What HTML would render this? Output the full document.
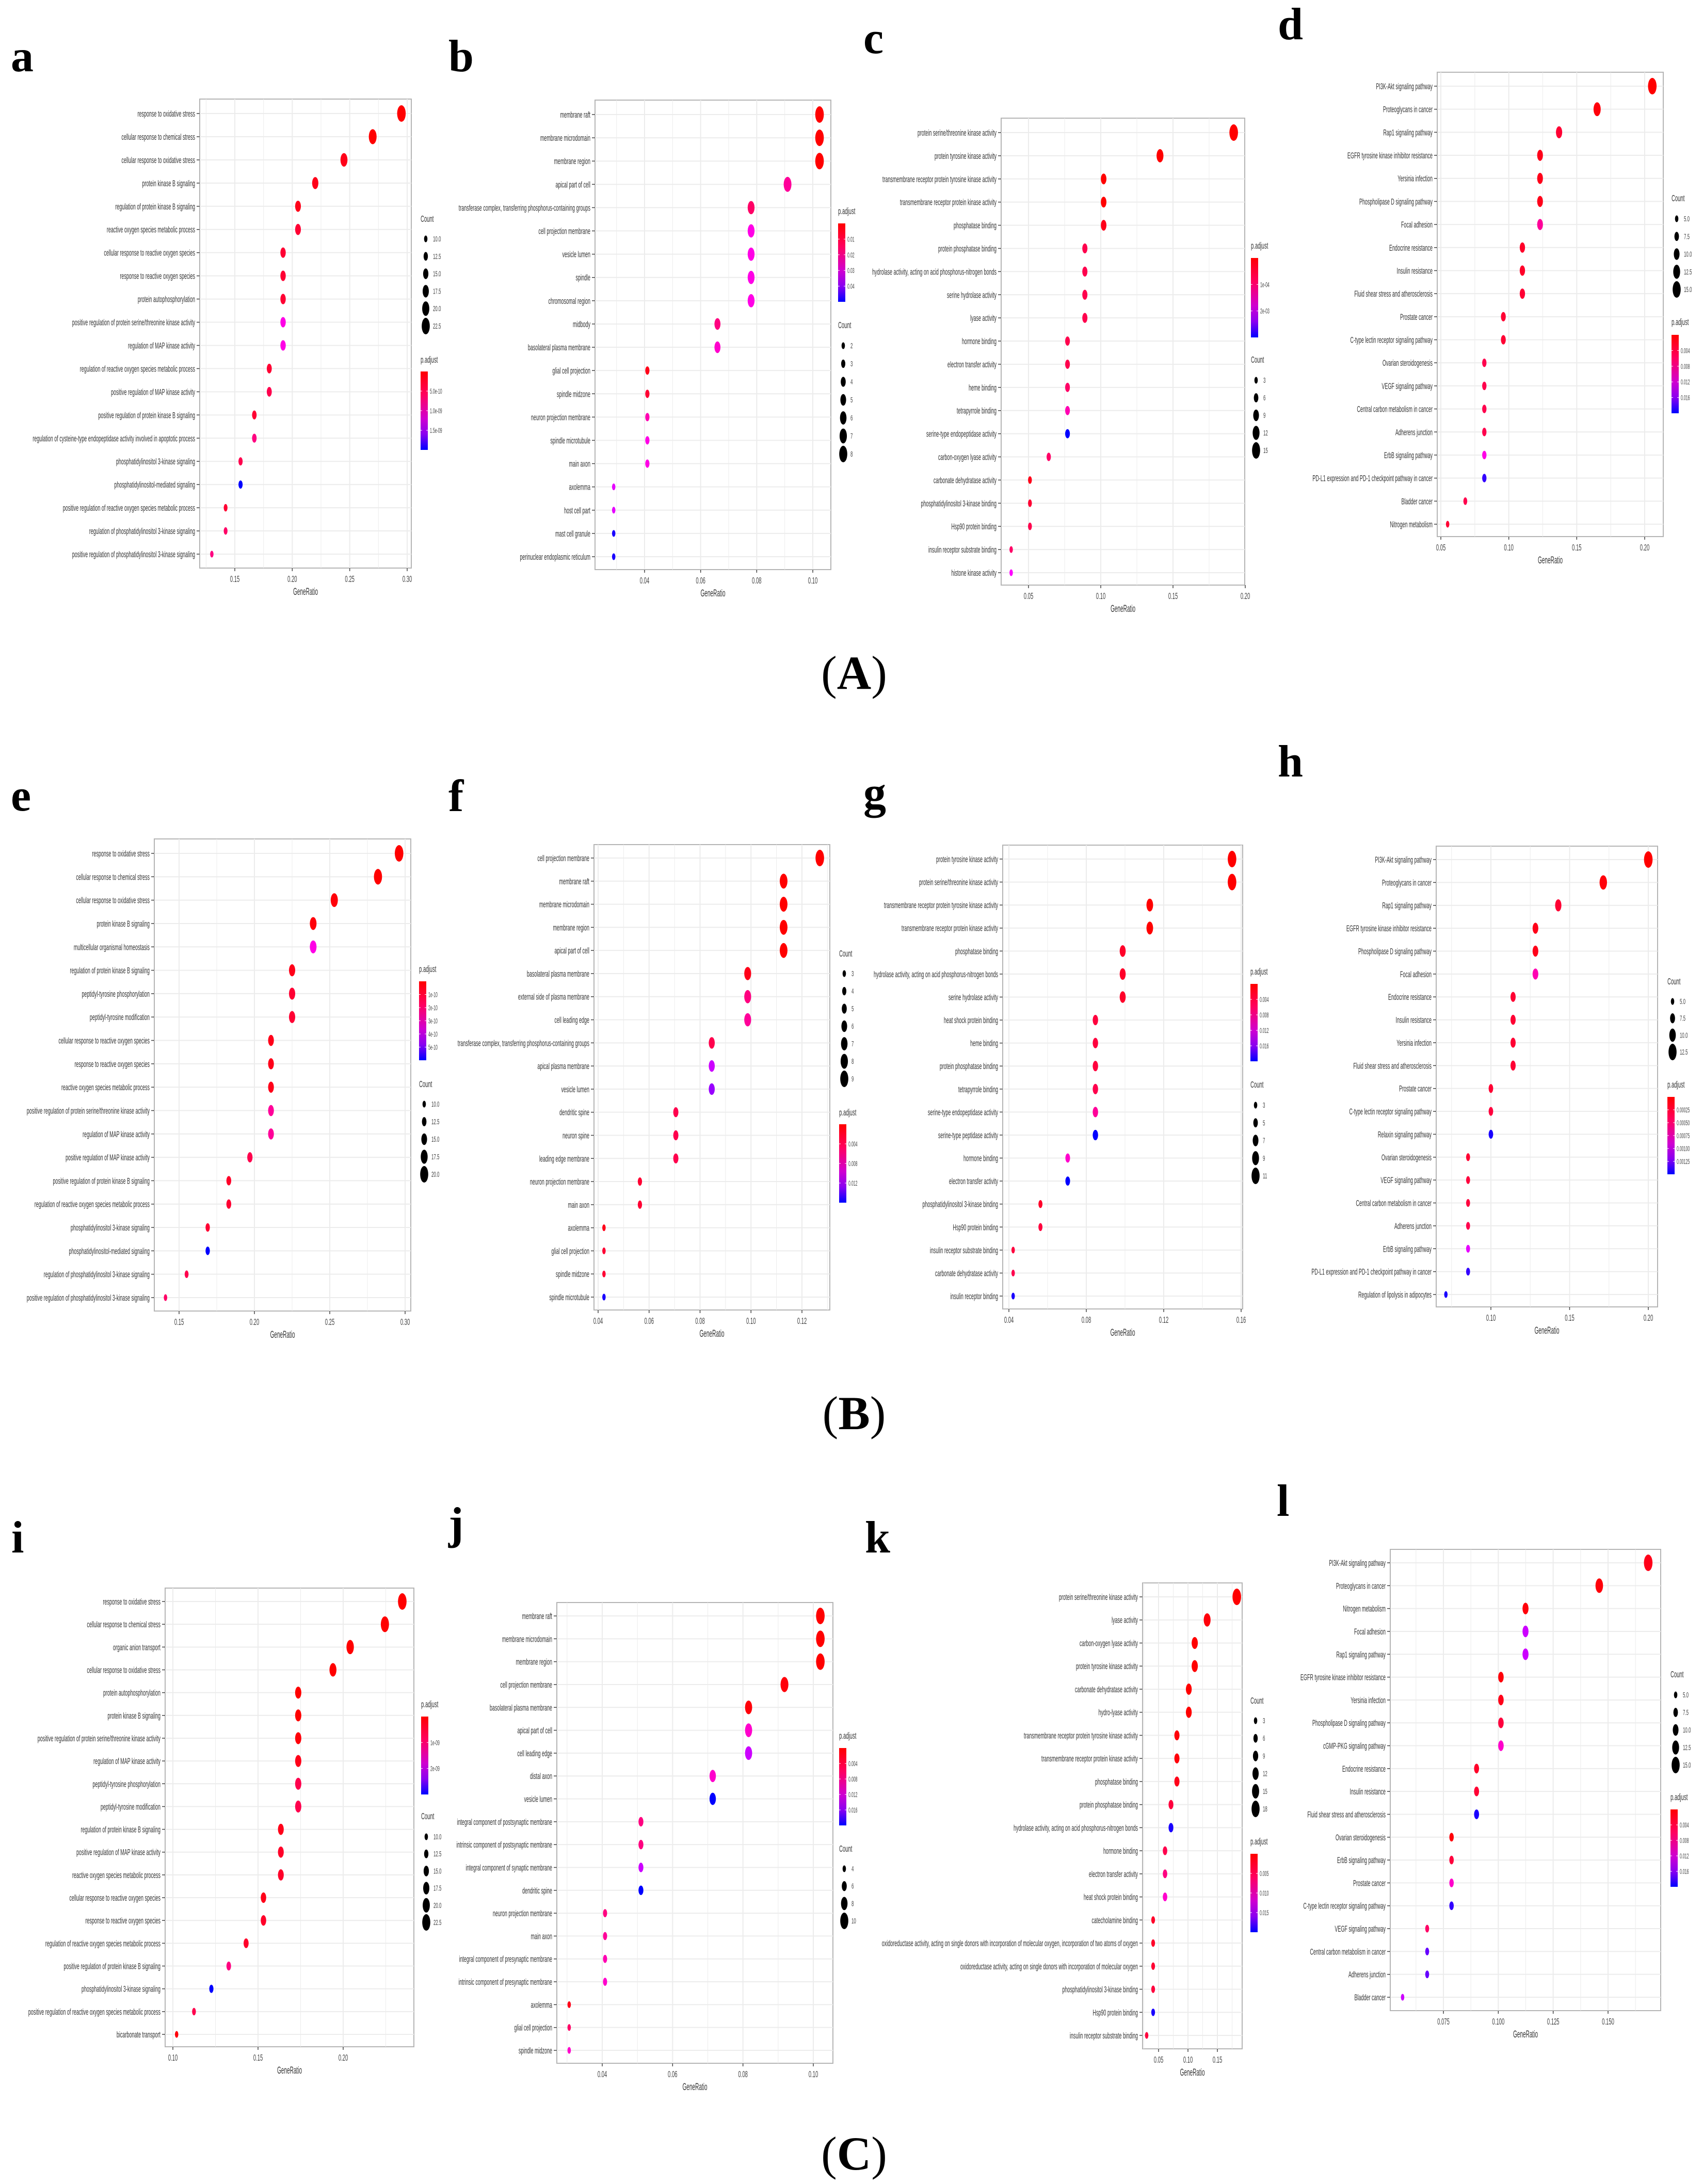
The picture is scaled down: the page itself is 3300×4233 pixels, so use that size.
<!DOCTYPE html>
<html><head><meta charset="utf-8"><style>
html,body{margin:0;padding:0;background:#fff}
svg{display:block}
text{font-family:"Liberation Sans",sans-serif}
.big{font-family:"Liberation Serif",serif;font-weight:bold}
</style></head><body>
<svg id="fig" width="3300" height="4233" viewBox="0 0 3300 4233" xmlns="http://www.w3.org/2000/svg">
<defs><linearGradient id="pgrad" x1="0" y1="0" x2="0" y2="1">
<stop offset="0" stop-color="#ff0000"/><stop offset="0.3" stop-color="#ff0060"/><stop offset="0.6" stop-color="#d000d0"/><stop offset="0.8" stop-color="#8a00f0"/><stop offset="1" stop-color="#0000ff"/></linearGradient></defs>
<text class="big" x="21" y="138" font-size="88">a</text>
<text class="big" x="869" y="138" font-size="88">b</text>
<text class="big" x="1673" y="103" font-size="88">c</text>
<text class="big" x="2476" y="76" font-size="88">d</text>
<text class="big" x="21" y="1571" font-size="88">e</text>
<text class="big" x="869" y="1572" font-size="88">f</text>
<text class="big" x="1673" y="1566" font-size="88">g</text>
<text class="big" x="2476" y="1505" font-size="88">h</text>
<text class="big" x="22" y="3009" font-size="88">i</text>
<text class="big" x="869" y="2982" font-size="88">j</text>
<text class="big" x="1676" y="3009" font-size="88">k</text>
<text class="big" x="2474" y="2938" font-size="88">l</text>
<text class="big" x="1655" y="1335" font-size="92" text-anchor="middle"><tspan font-weight="normal">(</tspan>A<tspan font-weight="normal">)</tspan></text>
<text class="big" x="1655" y="2770" font-size="92" text-anchor="middle"><tspan font-weight="normal">(</tspan>B<tspan font-weight="normal">)</tspan></text>
<text class="big" x="1655" y="4205" font-size="92" text-anchor="middle"><tspan font-weight="normal">(</tspan>C<tspan font-weight="normal">)</tspan></text>
</svg>
<script>
// ---------- data ----------
const labelsA=["response to oxidative stress","cellular response to chemical stress","cellular response to oxidative stress","protein kinase B signaling","regulation of protein kinase B signaling","reactive oxygen species metabolic process","cellular response to reactive oxygen species","response to reactive oxygen species","protein autophosphorylation","positive regulation of protein serine/threonine kinase activity","regulation of MAP kinase activity","regulation of reactive oxygen species metabolic process","positive regulation of MAP kinase activity","positive regulation of protein kinase B signaling","regulation of cysteine-type endopeptidase activity involved in apoptotic process","phosphatidylinositol 3-kinase signaling","phosphatidylinositol-mediated signaling","positive regulation of reactive oxygen species metabolic process","regulation of phosphatidylinositol 3-kinase signaling","positive regulation of phosphatidylinositol 3-kinase signaling"];
const valuesA=[0.295,0.27,0.245,0.22,0.205,0.205,0.192,0.192,0.192,0.192,0.192,0.18,0.18,0.167,0.167,0.155,0.155,0.142,0.142,0.13];
const padjA=[0,0,0.05,0.05,0.05,0.1,0.1,0.1,0.1,0.45,0.45,0.1,0.15,0.1,0.25,0.15,1,0.1,0.2,0.25];
const ticksA=[0.15,0.20,0.25,0.30];

const labelsB=["membrane raft","membrane microdomain","membrane region","apical part of cell","transferase complex, transferring phosphorus-containing groups","cell projection membrane","vesicle lumen","spindle","chromosomal region","midbody","basolateral plasma membrane","glial cell projection","spindle midzone","neuron projection membrane","spindle microtubule","main axon","axolemma","host cell part","mast cell granule","perinuclear endoplasmic reticulum"];
const valuesB=[0.1024,0.1024,0.1024,0.091,0.078,0.078,0.078,0.078,0.078,0.066,0.066,0.041,0.041,0.041,0.041,0.041,0.029,0.029,0.029,0.029];
const padjB=[0,0,0,0.3,0.2,0.45,0.45,0.45,0.45,0.25,0.4,0.05,0.1,0.35,0.45,0.45,0.55,0.55,0.95,0.95];
const ticksB=[0.04,0.06,0.08,0.10];

const labelsC=["protein serine/threonine kinase activity","protein tyrosine kinase activity","transmembrane receptor protein tyrosine kinase activity","transmembrane receptor protein kinase activity","phosphatase binding","protein phosphatase binding","hydrolase activity, acting on acid phosphorus-nitrogen bonds","serine hydrolase activity","lyase activity","hormone binding","electron transfer activity","heme binding","tetrapyrrole binding","serine-type endopeptidase activity","carbon-oxygen lyase activity","carbonate dehydratase activity","phosphatidylinositol 3-kinase binding","Hsp90 protein binding","insulin receptor substrate binding","histone kinase activity"];
const valuesC=[0.192,0.141,0.102,0.102,0.102,0.089,0.089,0.089,0.089,0.077,0.077,0.077,0.077,0.077,0.064,0.051,0.051,0.051,0.038,0.038];
const padjC=[0,0,0,0,0.05,0.15,0.15,0.15,0.15,0.15,0.15,0.2,0.35,1,0.2,0.05,0.1,0.15,0.2,0.5];
const ticksC=[0.05,0.10,0.15,0.20];

const labelsD=["PI3K-Akt signaling pathway","Proteoglycans in cancer","Rap1 signaling pathway","EGFR tyrosine kinase inhibitor resistance","Yersinia infection","Phospholipase D signaling pathway","Focal adhesion","Endocrine resistance","Insulin resistance","Fluid shear stress and atherosclerosis","Prostate cancer","C-type lectin receptor signaling pathway","Ovarian steroidogenesis","VEGF signaling pathway","Central carbon metabolism in cancer","Adherens junction","ErbB signaling pathway","PD-L1 expression and PD-1 checkpoint pathway in cancer","Bladder cancer","Nitrogen metabolism"];
const valuesD=[0.2056,0.165,0.137,0.123,0.123,0.123,0.123,0.110,0.110,0.110,0.096,0.096,0.082,0.082,0.082,0.082,0.082,0.082,0.068,0.055];
const padjD=[0,0.02,0.1,0.05,0.05,0.05,0.3,0.08,0.08,0.1,0.1,0.1,0.15,0.15,0.15,0.15,0.45,0.9,0.15,0.1];
const ticksD=[0.05,0.10,0.15,0.20];

const labelsE=["response to oxidative stress","cellular response to chemical stress","cellular response to oxidative stress","protein kinase B signaling","multicellular organismal homeostasis","regulation of protein kinase B signaling","peptidyl-tyrosine phosphorylation","peptidyl-tyrosine modification","cellular response to reactive oxygen species","response to reactive oxygen species","reactive oxygen species metabolic process","positive regulation of protein serine/threonine kinase activity","regulation of MAP kinase activity","positive regulation of MAP kinase activity","positive regulation of protein kinase B signaling","regulation of reactive oxygen species metabolic process","phosphatidylinositol 3-kinase signaling","phosphatidylinositol-mediated signaling","regulation of phosphatidylinositol 3-kinase signaling","positive regulation of phosphatidylinositol 3-kinase signaling"];
const valuesE=[0.296,0.282,0.253,0.239,0.239,0.225,0.225,0.225,0.211,0.211,0.211,0.211,0.211,0.197,0.183,0.183,0.169,0.169,0.155,0.141];
const padjE=[0,0,0.02,0.02,0.45,0.05,0.1,0.1,0.05,0.05,0.05,0.3,0.3,0.15,0.08,0.1,0.1,1,0.15,0.2];
const ticksE=[0.15,0.20,0.25,0.30];

const labelsF=["cell projection membrane","membrane raft","membrane microdomain","membrane region","apical part of cell","basolateral plasma membrane","external side of plasma membrane","cell leading edge","transferase complex, transferring phosphorus-containing groups","apical plasma membrane","vesicle lumen","dendritic spine","neuron spine","leading edge membrane","neuron projection membrane","main axon","axolemma","glial cell projection","spindle midzone","spindle microtubule"];
const valuesF=[0.127,0.1128,0.1128,0.1128,0.1128,0.0987,0.0987,0.0987,0.0846,0.0846,0.0846,0.0705,0.0705,0.0705,0.0564,0.0564,0.0423,0.0423,0.0423,0.0423];
const padjF=[0,0,0,0,0,0.05,0.25,0.3,0.15,0.6,0.7,0.15,0.15,0.15,0.1,0.1,0.05,0.1,0.1,0.95];
const ticksF=[0.04,0.06,0.08,0.10,0.12];

const labelsG=["protein tyrosine kinase activity","protein serine/threonine kinase activity","transmembrane receptor protein tyrosine kinase activity","transmembrane receptor protein kinase activity","phosphatase binding","hydrolase activity, acting on acid phosphorus-nitrogen bonds","serine hydrolase activity","heat shock protein binding","heme binding","protein phosphatase binding","tetrapyrrole binding","serine-type endopeptidase activity","serine-type peptidase activity","hormone binding","electron transfer activity","phosphatidylinositol 3-kinase binding","Hsp90 protein binding","insulin receptor substrate binding","carbonate dehydratase activity","insulin receptor binding"];
const valuesG=[0.1553,0.1553,0.1128,0.1128,0.0988,0.0988,0.0988,0.0847,0.0847,0.0847,0.0847,0.0847,0.0847,0.0704,0.0704,0.0563,0.0563,0.0422,0.0422,0.0422];
const padjG=[0,0,0,0,0.08,0.08,0.08,0.12,0.12,0.12,0.15,0.3,1,0.4,1,0.08,0.12,0.12,0.15,0.95];
const ticksG=[0.04,0.08,0.12,0.16];

const labelsH=["PI3K-Akt signaling pathway","Proteoglycans in cancer","Rap1 signaling pathway","EGFR tyrosine kinase inhibitor resistance","Phospholipase D signaling pathway","Focal adhesion","Endocrine resistance","Insulin resistance","Yersinia infection","Fluid shear stress and atherosclerosis","Prostate cancer","C-type lectin receptor signaling pathway","Relaxin signaling pathway","Ovarian steroidogenesis","VEGF signaling pathway","Central carbon metabolism in cancer","Adherens junction","ErbB signaling pathway","PD-L1 expression and PD-1 checkpoint pathway in cancer","Regulation of lipolysis in adipocytes"];
const valuesH=[0.200,0.1714,0.1428,0.1283,0.1283,0.1283,0.1141,0.1141,0.1141,0.1141,0.100,0.100,0.100,0.0855,0.0855,0.0855,0.0855,0.0855,0.0855,0.0714];
const padjH=[0,0.02,0.1,0.05,0.05,0.35,0.1,0.1,0.1,0.1,0.1,0.12,0.95,0.1,0.12,0.12,0.15,0.55,0.9,0.95];
const ticksH=[0.10,0.15,0.20];

const labelsI=["response to oxidative stress","cellular response to chemical stress","organic anion transport","cellular response to oxidative stress","protein autophosphorylation","protein kinase B signaling","positive regulation of protein serine/threonine kinase activity","regulation of MAP kinase activity","peptidyl-tyrosine phosphorylation","peptidyl-tyrosine modification","regulation of protein kinase B signaling","positive regulation of MAP kinase activity","reactive oxygen species metabolic process","cellular response to reactive oxygen species","response to reactive oxygen species","regulation of reactive oxygen species metabolic process","positive regulation of protein kinase B signaling","phosphatidylinositol 3-kinase signaling","positive regulation of reactive oxygen species metabolic process","bicarbonate transport"];
const valuesI=[0.2347,0.2245,0.2041,0.194,0.1736,0.1736,0.1736,0.1736,0.1736,0.1736,0.1634,0.1634,0.1634,0.1532,0.1532,0.143,0.1328,0.1226,0.1124,0.1022];
const padjI=[0,0,0,0,0,0,0.02,0.05,0.15,0.15,0.05,0.08,0.08,0.05,0.08,0.08,0.25,1,0.15,0.02];
const ticksI=[0.10,0.15,0.20];

const labelsJ=["membrane raft","membrane microdomain","membrane region","cell projection membrane","basolateral plasma membrane","apical part of cell","cell leading edge","distal axon","vesicle lumen","integral component of postsynaptic membrane","intrinsic component of postsynaptic membrane","integral component of synaptic membrane","dendritic spine","neuron projection membrane","main axon","integral component of presynaptic membrane","intrinsic component of presynaptic membrane","axolemma","glial cell projection","spindle midzone"];
const valuesJ=[0.102,0.102,0.102,0.0918,0.0816,0.0816,0.0816,0.0714,0.0714,0.051,0.051,0.051,0.051,0.0408,0.0408,0.0408,0.0408,0.0306,0.0306,0.0306];
const padjJ=[0,0,0,0.02,0.02,0.4,0.6,0.4,1,0.25,0.25,0.6,1,0.25,0.3,0.35,0.4,0.05,0.2,0.4];
const ticksJ=[0.04,0.06,0.08,0.10];

const labelsK=["protein serine/threonine kinase activity","lyase activity","carbon-oxygen lyase activity","protein tyrosine kinase activity","carbonate dehydratase activity","hydro-lyase activity","transmembrane receptor protein tyrosine kinase activity","transmembrane receptor protein kinase activity","phosphatase binding","protein phosphatase binding","hydrolase activity, acting on acid phosphorus-nitrogen bonds","hormone binding","electron transfer activity","heat shock protein binding","catecholamine binding","oxidoreductase activity, acting on single donors with incorporation of molecular oxygen, incorporation of two atoms of oxygen","oxidoreductase activity, acting on single donors with incorporation of molecular oxygen","phosphatidylinositol 3-kinase binding","Hsp90 protein binding","insulin receptor substrate binding"];
const valuesK=[0.183,0.1326,0.1115,0.1115,0.1014,0.1014,0.0812,0.0812,0.0812,0.0711,0.0711,0.061,0.061,0.061,0.0408,0.0408,0.0408,0.0408,0.0408,0.0298];
const padjK=[0,0.02,0,0,0,0,0.02,0.02,0.05,0.12,0.95,0.15,0.25,0.4,0.08,0.08,0.1,0.12,0.95,0.12];
const ticksK=[0.05,0.10,0.15];

const labelsL=["PI3K-Akt signaling pathway","Proteoglycans in cancer","Nitrogen metabolism","Focal adhesion","Rap1 signaling pathway","EGFR tyrosine kinase inhibitor resistance","Yersinia infection","Phospholipase D signaling pathway","cGMP-PKG signaling pathway","Endocrine resistance","Insulin resistance","Fluid shear stress and atherosclerosis","Ovarian steroidogenesis","ErbB signaling pathway","Prostate cancer","C-type lectin receptor signaling pathway","VEGF signaling pathway","Central carbon metabolism in cancer","Adherens junction","Bladder cancer"];
const valuesL=[0.1683,0.146,0.1124,0.1124,0.1124,0.1012,0.1012,0.1012,0.1012,0.0901,0.0901,0.0901,0.0787,0.0787,0.0787,0.0787,0.0676,0.0676,0.0676,0.0564];
const padjL=[0.05,0.02,0.02,0.6,0.6,0.02,0.05,0.12,0.4,0.08,0.1,0.95,0.02,0.12,0.4,0.9,0.2,0.8,0.8,0.6];
const ticksL=[0.075,0.100,0.125,0.150];

const countLegendA=["10.0","12.5","15.0","17.5","20.0","22.5"];
const countLegendB=["2","3","4","5","6","7","8"];
const countLegendC=["3","6","9","12","15"];
const countLegendD=["5.0","7.5","10.0","12.5","15.0"];
const countLegendE=["10.0","12.5","15.0","17.5","20.0"];
const countLegendF=["3","4","5","6","7","8","9"];
const countLegendG=["3","5","7","9","11"];
const countLegendH=["5.0","7.5","10.0","12.5"];
const countLegendI=["10.0","12.5","15.0","17.5","20.0","22.5"];
const countLegendJ=["4","6","8","10"];
const countLegendK=["3","6","9","12","15","18"];
const countLegendL=["5.0","7.5","10.0","12.5","15.0"];

const barLabelsA=["5.0e-10","1.0e-09","1.5e-09"];
const barLabelsB=["0.01","0.02","0.03","0.04"];
const barLabelsC=["1e-04","2e-03"];
const barLabelsD=["0.004","0.008","0.012","0.016"];
const barLabelsE=["1e-10","2e-10","3e-10","4e-10","5e-10"];
const barLabelsF=["0.004","0.008","0.012"];
const barLabelsG=["0.004","0.008","0.012","0.016"];
const barLabelsH=["0.00025","0.00050","0.00075","0.00100","0.00125"];
const barLabelsI=["1e-09","2e-09"];
const barLabelsJ=["0.004","0.008","0.012","0.016"];
const barLabelsK=["0.005","0.010","0.015"];
const barLabelsL=["0.004","0.008","0.012","0.016"];

// ---------- layout (pixels) ----------
const panels=[
{id:'a',lab:labelsA,val:valuesA,p:padjA,ticks:ticksA,L:387,R:797,T:192,B:1101,y0:220,yN:1074,tv:[0.15,0.30],tx:[455,789],cnt:countLegendA,bar:barLabelsA,lx:815,countFirst:true,cT:430,cD:[463,632],pT:703,bT:720,bB:872},
{id:'b',lab:labelsB,val:valuesB,p:padjB,ticks:ticksB,L:1153,R:1610,T:194,B:1104,y0:222,yN:1079,tv:[0.04,0.10],tx:[1249,1575],cnt:countLegendB,bar:barLabelsB,lx:1624,countFirst:false,cT:636,cD:[670,880],pT:415,bT:433,bB:585},
{id:'c',lab:labelsC,val:valuesC,p:padjC,ticks:ticksC,L:1940,R:2412,T:229,B:1134,y0:257,yN:1110,tv:[0.05,0.20],tx:[1993,2413],cnt:countLegendC,bar:barLabelsC,lx:2424,countFirst:false,cT:703,cD:[737,873],pT:482,bT:500,bB:654},
{id:'d',lab:labelsD,val:valuesD,p:padjD,ticks:ticksD,L:2785,R:3223,T:140,B:1040,y0:167,yN:1016,tv:[0.05,0.20],tx:[2792,3187],cnt:countLegendD,bar:barLabelsD,lx:3239,countFirst:true,cT:390,cD:[424,561],pT:630,bT:649,bB:801},
{id:'e',lab:labelsE,val:valuesE,p:padjE,ticks:ticksE,L:299,R:796,T:1626,B:2541,y0:1654,yN:2515,tv:[0.15,0.30],tx:[347,785],cnt:countLegendE,bar:barLabelsE,lx:812,countFirst:false,cT:2107,cD:[2140,2276],pT:1884,bT:1902,bB:2055},
{id:'f',lab:labelsF,val:valuesF,p:padjF,ticks:ticksF,L:1151,R:1608,T:1637,B:2539,y0:1663,yN:2514,tv:[0.04,0.12],tx:[1159,1554],cnt:countLegendF,bar:barLabelsF,lx:1626,countFirst:true,cT:1854,cD:[1887,2091],pT:2162,bT:2179,bB:2331},
{id:'g',lab:labelsG,val:valuesG,p:padjG,ticks:ticksG,L:1943,R:2408,T:1638,B:2537,y0:1665,yN:2512,tv:[0.04,0.16],tx:[1955,2405],cnt:countLegendG,bar:barLabelsG,lx:2423,countFirst:false,cT:2108,cD:[2142,2279],pT:1889,bT:1907,bB:2057},
{id:'h',lab:labelsH,val:valuesH,p:padjH,ticks:ticksH,L:2783,R:3212,T:1640,B:2533,y0:1666,yN:2509,tv:[0.10,0.20],tx:[2889,3194],cnt:countLegendH,bar:barLabelsH,lx:3231,countFirst:true,cT:1908,cD:[1941,2039],pT:2108,bT:2126,bB:2276},
{id:'i',lab:labelsI,val:valuesI,p:padjI,ticks:ticksI,L:320,R:802,T:3078,B:3967,y0:3104,yN:3943,tv:[0.10,0.20],tx:[335,665],cnt:countLegendI,bar:barLabelsI,lx:816,countFirst:false,cT:3526,cD:[3560,3726],pT:3309,bT:3327,bB:3478},
{id:'j',lab:labelsJ,val:valuesJ,p:padjJ,ticks:ticksJ,L:1079,R:1614,T:3106,B:3999,y0:3132,yN:3974,tv:[0.04,0.10],tx:[1167,1576],cnt:countLegendJ,bar:barLabelsJ,lx:1626,countFirst:false,cT:3589,cD:[3622,3723],pT:3370,bT:3388,bB:3538},
{id:'k',lab:labelsK,val:valuesK,p:padjK,ticks:ticksK,L:2214,R:2407,T:3068,B:3971,y0:3095,yN:3945,tv:[0.05,0.15],tx:[2245,2359],cnt:countLegendK,bar:barLabelsK,lx:2423,countFirst:true,cT:3302,cD:[3335,3506],pT:3575,bT:3593,bB:3745},
{id:'l',lab:labelsL,val:valuesL,p:padjL,ticks:ticksL,L:2694,R:3218,T:3003,B:3897,y0:3029,yN:3871,tv:[0.075,0.150],tx:[2797,3116],cnt:countLegendL,bar:barLabelsL,lx:3237,countFirst:true,cT:3251,cD:[3285,3421],pT:3489,bT:3507,bB:3657}
];

const NS="http://www.w3.org/2000/svg";
const svg=document.getElementById('fig');
function mk(tag,attrs,parent){const e=document.createElementNS(NS,tag);for(const k in attrs)e.setAttribute(k,attrs[k]);(parent||svg).appendChild(e);return e;}
function col(p){const h=360-120*p;return 'hsl('+h+',100%,50%)';}
function sq(parent,x,y,str,size,anchor,fill,sx){const t=mk('text',{transform:'translate('+x+','+y+') scale('+(sx||0.53)+',1)','font-size':size,'text-anchor':anchor,fill:fill},parent);t.textContent=str;return t;}

panels.forEach(P=>{
  const g=mk('g',{});
  
  
  const n=P.lab.length;
  const yS=i=>P.y0+i*(P.yN-P.y0)/(n-1);
  const xS=v=>P.tx[0]+(v-P.tv[0])*(P.tx[1]-P.tx[0])/(P.tv[1]-P.tv[0]);
  const frame=mk('rect',{x:P.L,y:P.T,width:P.R-P.L,height:P.B-P.T,fill:'#fff',stroke:'#b5b5b5','stroke-width':2},g);
  
  
  // vertical grid
  const step=P.ticks[1]-P.ticks[0];
  for(let v=P.ticks[0]-step;v<=P.ticks[P.ticks.length-1]+step+1e-9;v+=step/2){
    const x=xS(v); if(x<=P.L+1||x>=P.R-1)continue;
    mk('line',{x1:x,x2:x,y1:P.T,y2:P.B,stroke:'#ececec','stroke-width':Math.abs(((v-P.ticks[0])/step)%1)<1e-6||Math.abs(((v-P.ticks[0])/step)%1-1)<1e-6?2:1},g);
  }
  for(let i=0;i<n;i++){const y=yS(i);
    mk('line',{x1:P.L,x2:P.R,y1:y,y2:y,stroke:'#ececec','stroke-width':2},g);
    mk('line',{x1:P.L-6,x2:P.L,y1:y,y2:y,stroke:'#444','stroke-width':1.5},g);
    const t=sq(g,P.L-9,y+6,P.lab[i],17,'end','#333');
    
    
  }
  P.ticks.forEach(v=>{const x=xS(v);
    mk('line',{x1:x,x2:x,y1:P.B,y2:P.B+6,stroke:'#444','stroke-width':1.5},g);
    const t=sq(g,x,P.B+27,v.toFixed(P.id==='l'?3:2),18,'middle','#444');
    
    
  });
  const xt=sq(g,(P.L+P.R)/2,P.B+52,'GeneRatio',19,'middle','#333');
  
  
  const vmin=Math.min(...P.val),vmax=Math.max(...P.val);
  P.val.forEach((v,i)=>{
    const f=(v-vmin)/(vmax-vmin||1);
    const rx=3.3+5*f, ry=6.5+9.5*f;
    const d=mk('ellipse',{cx:xS(v),cy:yS(i),rx:rx,ry:ry,fill:col(P.p[i])},g);
    
    
  });
  // legends
  const lg=mk('g',{},g);
  
  
  sq(lg,P.lx,P.cT,'Count',18,'start','#333');
  const m=P.cnt.length;
  P.cnt.forEach((c,i)=>{const y=P.cD[0]+i*(P.cD[1]-P.cD[0])/(m-1);const f=i/(m-1);
    const e=mk('ellipse',{cx:P.lx+10,cy:y,rx:3.3+4.5*f,ry:6.5+9.5*f,fill:'#000'},lg);
    
    
    sq(lg,P.lx+24,y+5,c,15,'start','#444');
  });
  sq(lg,P.lx,P.pT,'p.adjust',18,'start','#333');
  const br=mk('rect',{x:P.lx,y:P.bT,width:14,height:P.bB-P.bT,fill:'url(#pgrad)'},lg);
  
  
  const k=P.bar.length;
  P.bar.forEach((b,i)=>{const y=P.bT+(P.bB-P.bT)*(i+1)/(k+1);
    mk('line',{x1:P.lx,x2:P.lx+3,y1:y,y2:y,stroke:'#fff','stroke-width':1},lg);
    mk('line',{x1:P.lx+11,x2:P.lx+14,y1:y,y2:y,stroke:'#fff','stroke-width':1},lg);
    sq(lg,P.lx+18,y+5,b,14,'start','#444',0.5);
  });
});
</script>
</body></html>
